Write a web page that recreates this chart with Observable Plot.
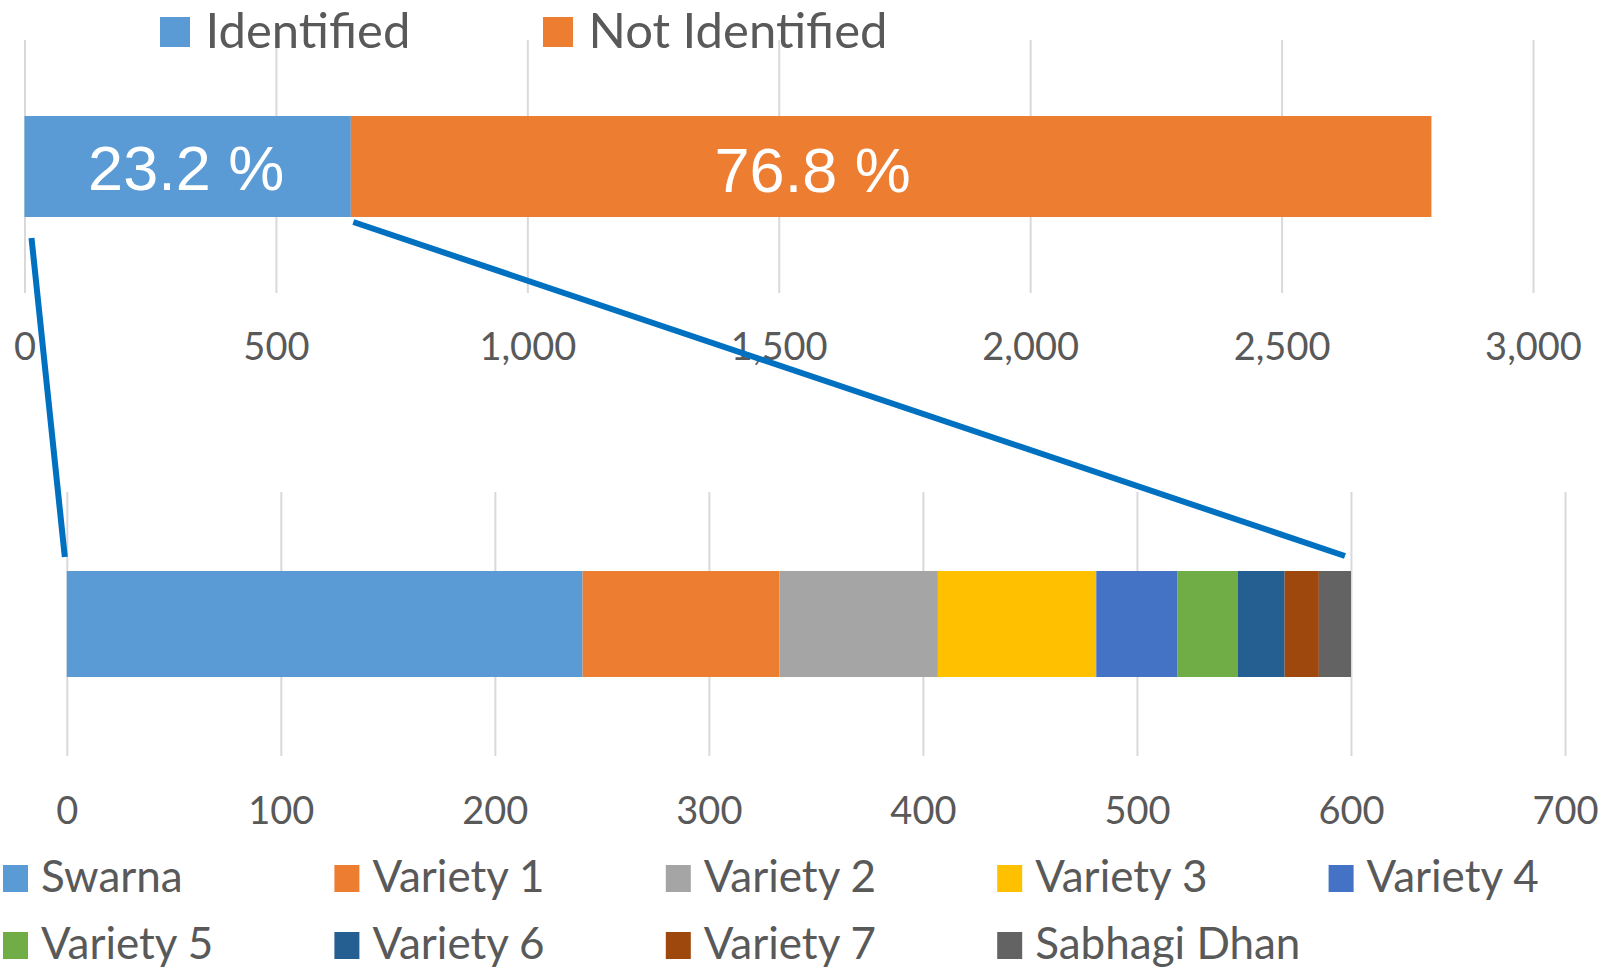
<!DOCTYPE html>
<html><head><meta charset="utf-8">
<script src="https://cdn.jsdelivr.net/npm/d3@7"></script>
<script src="https://cdn.jsdelivr.net/npm/@observablehq/plot@0.6"></script>
<style>
html,body{margin:0;padding:0;background:#fff;}
#root{position:relative;width:1610px;height:969px;overflow:hidden;font-family:Lato,sans-serif;}
#root > *{position:absolute;left:0;}
</style></head><body><div id="root"></div>
<script>
// ---- data ----
const topGroups = ["Identified", "Not Identified"];
const topValues = [649, 2149];
const topLabels = ["23.2 %", "76.8 %"];
const topColors = ["#5B9BD5", "#ED7D31"];
const topTicks = [0, 500, 1000, 1500, 2000, 2500, 3000];

const varieties = ["Swarna", "Variety 1", "Variety 2", "Variety 3", "Variety 4", "Variety 5", "Variety 6", "Variety 7", "Sabhagi Dhan"];
const varietyValues = [241, 92, 74, 74, 38, 28, 22, 16, 15];
const varietyColors = ["#5B9BD5", "#ED7D31", "#A5A5A5", "#FFC000", "#4472C4", "#70AD47", "#255E91", "#9E480E", "#636363"];
const bottomTicks = [0, 100, 200, 300, 400, 500, 600, 700];

// ---- build tables ----
const W = 1610;
const topCum = d3.cumsum(topValues);
const topData = topGroups.map((g, i) => ({group: g, value: topValues[i], label: topLabels[i], row: "all",
  x1: topCum[i] - topValues[i], x2: topCum[i]}));
const botCum = d3.cumsum(varietyValues);
const botData = varieties.map((v, i) => ({variety: v, value: varietyValues[i], row: "all",
  x1: botCum[i] - varietyValues[i], x2: botCum[i]}));

const root = document.getElementById("root");
const axisStyle = {fontFamily: "Lato, sans-serif", fontSize: "38px", color: "#595959", background: "transparent", overflow: "visible"};

// ---- top chart ----
const T1 = 0, H1 = 370;
const topChart = Plot.plot({
  width: W, height: H1,
  marginTop: 40, marginBottom: 77, marginLeft: 24.5, marginRight: 77,
  style: axisStyle,
  x: {domain: [0, 3000], label: null},
  y: {domain: ["all"], padding: 0.4286, axis: null},
  color: {domain: topGroups, range: topColors},
  marks: [
    Plot.gridX(topTicks, {stroke: "#d9d9d9", strokeOpacity: 1, strokeWidth: 2}),
    Plot.axisX(topTicks, {tickSize: 0, tickPadding: 40, tickFormat: d3.format(","), fontSize: 38, fill: "#595959", label: null}),
    Plot.barX(topData, {x1: "x1", x2: "x2", y: "row", fill: "group"}),
    Plot.text(topData.slice(0, 1), {x: d => (d.x1 + d.x2) / 2, y: "row", text: "label", fill: "white",
      fontSize: 63, fontFamily: "Liberation Sans, Arial, sans-serif", dx: -2, dy: 3}),
    Plot.text(topData.slice(1, 2), {x: d => (d.x1 + d.x2) / 2, y: "row", text: "label", fill: "white",
      fontSize: 63, fontFamily: "Liberation Sans, Arial, sans-serif", dx: -79, dy: 5})
  ]
});
topChart.style.top = T1 + "px";
root.appendChild(topChart);

// ---- bottom chart ----
const T2 = 400, H2 = 450;
const botChart = Plot.plot({
  width: W, height: H2,
  marginTop: 92, marginBottom: 94, marginLeft: 66.8, marginRight: 45,
  style: axisStyle,
  x: {domain: [0, 700], label: null},
  y: {domain: ["all"], padding: 0.427, axis: null},
  color: {domain: varieties, range: varietyColors},
  marks: [
    Plot.gridX(bottomTicks, {stroke: "#d9d9d9", strokeOpacity: 1, strokeWidth: 2}),
    Plot.axisX(bottomTicks, {tickSize: 0, tickPadding: 41, tickFormat: d3.format(","), fontSize: 38, fill: "#595959", label: null}),
    Plot.barX(botData, {x1: "x1", x2: "x2", y: "row", fill: "variety"})
  ]
});
botChart.style.top = T2 + "px";
root.appendChild(botChart);

// ---- connector lines (from scales) ----
const tx = topChart.scale("x"), ty = topChart.scale("y");
const bx = botChart.scale("x"), by = botChart.scale("y");
const topBarBottom = T1 + ty.apply("all") + ty.bandwidth;
const botBarTop = T2 + by.apply("all");
const identified = topValues[0];
const identifiedTotal = d3.sum(varietyValues);
const overlay = d3.create("svg").attr("width", W).attr("height", 969)
  .style("position", "absolute").style("top", "0px").style("left", "0px").style("pointer-events", "none");
const connectors = [
  {x1: tx.apply(0) + 7, y1: topBarBottom + 21, x2: bx.apply(0) - 2, y2: botBarTop - 14},
  {x1: tx.apply(identified) + 2.5, y1: topBarBottom + 5, x2: bx.apply(identifiedTotal) - 6, y2: botBarTop - 15}
];
overlay.selectAll("line").data(connectors).join("line")
  .attr("x1", d => d.x1).attr("y1", d => d.y1).attr("x2", d => d.x2).attr("y2", d => d.y2)
  .attr("stroke", "#0070C0").attr("stroke-width", 6);
root.appendChild(overlay.node());

// ---- legends ----
const legend = d3.create("svg").attr("width", W).attr("height", 969)
  .style("position", "absolute").style("top", "0px").style("left", "0px")
  .style("font-family", "Lato, sans-serif");
const topLegendX = [160, 543];
topGroups.forEach((g, i) => {
  legend.append("rect").attr("x", topLegendX[i]).attr("y", 17).attr("width", 30).attr("height", 30).attr("fill", topColors[i]);
  legend.append("text").attr("x", topLegendX[i] + 45.5).attr("y", 47.5).attr("font-size", 49).attr("fill", "#595959").text(g);
});
varieties.forEach((v, i) => {
  const col = i % 5, row = Math.floor(i / 5);
  const x = 3 + 331.4 * col;
  const y = row === 0 ? 865 : 932;
  legend.append("rect").attr("x", x).attr("y", y).attr("width", 25).attr("height", 27).attr("fill", varietyColors[i]);
  legend.append("text").attr("x", x + 38).attr("y", y + 27).attr("font-size", 44).attr("fill", "#595959").text(v);
});
root.appendChild(legend.node());
</script>
</body></html>
